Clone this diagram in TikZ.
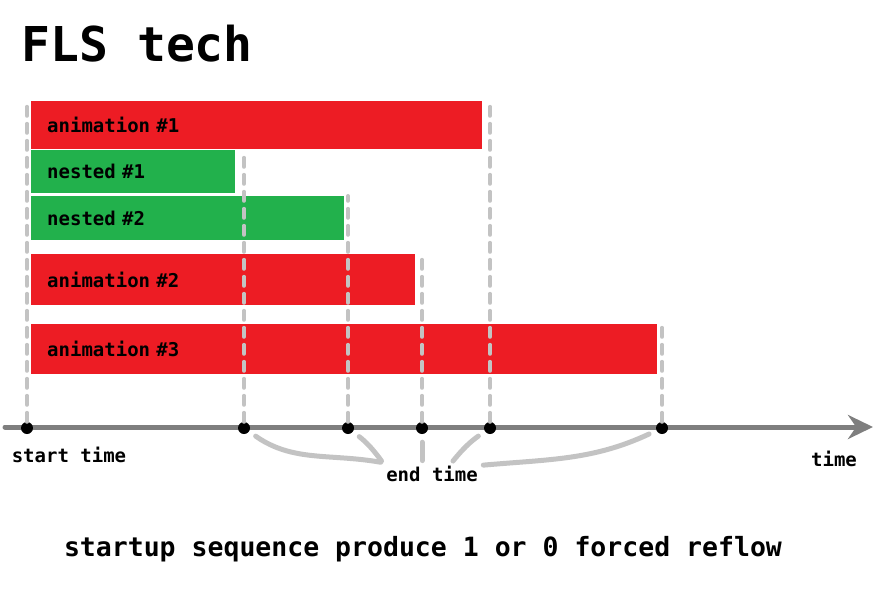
\documentclass[tikz,border=0pt]{standalone}
\usepackage{fontspec}
\setmonofont{DejaVu Sans Mono}
\usetikzlibrary{arrows.meta}
\definecolor{barred}{RGB}{237,28,36}
\definecolor{bargreen}{RGB}{34,177,76}
\definecolor{axisgray}{RGB}{127,127,127}
\definecolor{guidegray}{RGB}{195,195,195}
\newcommand{\labelfont}{\ttfamily\bfseries\fontsize{19}{19}\selectfont}
\begin{document}
\begin{tikzpicture}[x=1pt,y=-1pt,
   every node/.style={font=\labelfont},
   bar/.style={anchor=north west,inner xsep=16pt,inner ysep=0pt,align=left},
   guide/.style={draw=guidegray,line width=4pt,line cap=round,dash pattern=on 9pt off 8pt},
   brace/.style={draw=guidegray,line width=5pt,line cap=round,shorten <=8pt,shorten >=2pt},
   tick/.style={circle,fill=black,inner sep=0pt,minimum size=12pt}]
   \useasboundingbox (0,0) rectangle (882,596);
   \node [anchor=base west,font=\ttfamily\bfseries\fontsize{48}{48}\selectfont] (title) at (18,62) {FLS tech};
   % bars
   \node [bar,fill=barred,text width=419pt,minimum height=48pt] (anim1) at (31,101) {animation \#1};
   \node [bar,fill=bargreen,text width=172pt,minimum height=43pt] (nest1) at (31,150) {nested \#1};
   \node [bar,fill=bargreen,text width=281pt,minimum height=44pt] (nest2) at (31,196) {nested \#2};
   \node [bar,fill=barred,text width=352pt,minimum height=51pt] (anim2) at (31,254) {animation \#2};
   \node [bar,fill=barred,text width=594pt,minimum height=50pt] (anim3) at (31,324) {animation \#3};
   % time axis
   \coordinate (axisstart) at (5,427);
   \coordinate (axisend) at (873,427);
   \draw [axisgray,line width=5pt,line cap=round,-{Stealth[length=25pt,width=24pt]}] (axisstart) -- (axisend);
   \foreach \x/\n in {27/t0,244/t1,348/t2,422/t3,490/t4,662/t5}
      \node [tick] (\n) at (\x,428) {};
   \draw [guide] (t0) -- (t0 |- anim1.north);
   \draw [guide] (t1) -- (t1 |- nest1.north);
   \draw [guide] (t2) -- (t2 |- nest2.north);
   \draw [guide] (t3) -- (t3 |- anim2.north);
   \draw [guide] (t4) -- (t4 |- anim1.north);
   \draw [guide] (t5) -- (t5 |- anim3.north);
   \node (start) at (69,455) {start time};
   \node (timelbl) at (834,459) {time};
   \node (endlbl) at (432,474) {end time};
   \draw [brace] (t1) to[out=-35,in=170] (endlbl.north west);
   \draw [brace] (t2) to[bend left=8] (endlbl.north west);
   \draw [brace] (t3) -- (t3 |- endlbl.north);
   \draw [brace] (t4) to[bend right=8] (endlbl.30);
   \draw [brace] (t5) to[out=-155,in=5] (endlbl.10);
   \node [font=\ttfamily\bfseries\fontsize{26.5}{26.5}\selectfont] (caption) at (423,549) {startup sequence produce 1 or 0 forced reflow};
\end{tikzpicture}
\end{document}
